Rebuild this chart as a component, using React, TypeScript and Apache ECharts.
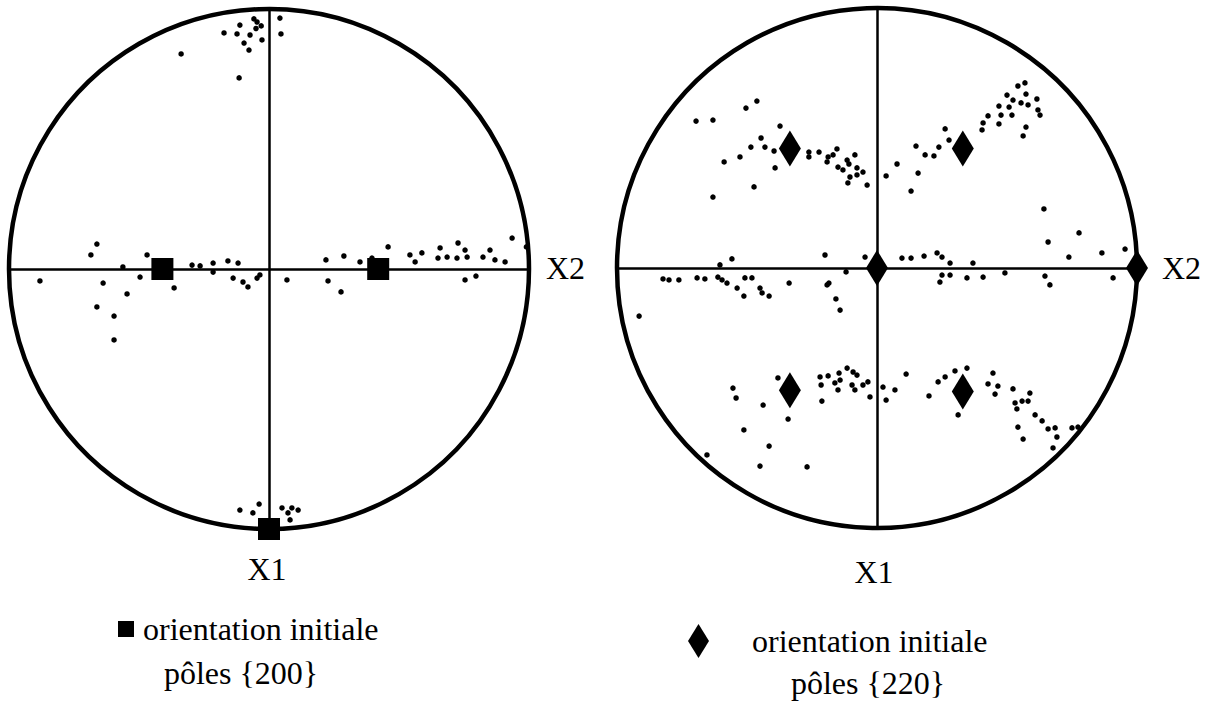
import React, { useEffect, useRef } from "react";
import * as echarts from "echarts";

// Pole figure coordinates, in units of the projection radius (centre = 0, edge = 1)
const leftDots: [number, number][] = [
  [-0.046, 0.95], [-0.058, 0.962], [-0.03, 0.935], [-0.05, 0.925], [-0.112, 0.938], [-0.173, 0.908],
  [-0.123, 0.904], [-0.073, 0.9], [-0.096, 0.869], [-0.077, 0.842], [-0.027, 0.881],
  [-0.338, 0.827], [-0.115, 0.735], [0.042, 0.965], [0.046, 0.904],
  [-0.662, 0.096], [-0.685, 0.054], [-0.469, 0.054], [-0.562, 0.008], [-0.296, 0.015],
  [-0.265, 0.012], [-0.215, 0.023], [-0.158, 0.031], [-0.119, 0.023],
  [-0.881, -0.046], [-0.638, -0.054], [-0.496, -0.031], [-0.546, -0.096], [-0.662, -0.146],
  [-0.596, -0.181], [-0.596, -0.273], [-0.365, -0.073], [-0.215, -0.012], [-0.138, -0.035],
  [-0.1, -0.05], [-0.081, -0.069], [-0.046, -0.035], [-0.035, -0.023],
  [0.219, 0.035], [0.288, 0.05], [0.35, 0.027], [0.396, 0.042], [0.458, 0.085], [0.542, 0.054],
  [0.588, 0.062], [0.562, 0.027], [0.65, 0.042], [0.685, 0.046], [0.658, 0.081], [0.727, 0.1],
  [0.754, 0.073], [0.723, 0.042], [0.762, 0.046], [0.823, 0.046], [0.85, 0.073], [0.869, 0.035],
  [0.908, 0.027], [0.935, 0.119], [0.99, 0.085],
  [0.069, -0.042], [0.227, -0.046], [0.277, -0.088], [0.754, -0.042], [0.796, -0.027],
  [-0.112, -0.927], [-0.038, -0.904], [-0.062, -0.938], [0.05, -0.919], [0.088, -0.919],
  [0.112, -0.927], [0.073, -0.938], [0.081, -0.965],
];
const leftPoles: [number, number][] = [[-0.41, 0], [0.42, 0], [0, -1]];

const rightDots: [number, number][] = [
  [-0.462, 0.642], [-0.504, 0.615], [-0.696, 0.565], [-0.631, 0.569], [-0.373, 0.546],
  [-0.446, 0.5], [-0.485, 0.465], [-0.431, 0.465], [-0.396, 0.45], [-0.527, 0.427],
  [-0.588, 0.408], [-0.392, 0.385], [-0.473, 0.312], [-0.631, 0.273], [-0.262, 0.446],
  [-0.262, 0.427], [-0.223, 0.446], [-0.188, 0.427], [-0.192, 0.408], [-0.154, 0.458],
  [-0.169, 0.435], [-0.085, 0.435], [-0.115, 0.415], [-0.108, 0.4], [-0.15, 0.388],
  [-0.131, 0.377], [-0.077, 0.385], [-0.054, 0.369], [-0.077, 0.358], [-0.104, 0.35],
  [-0.112, 0.327], [-0.038, 0.319],
  [0.262, 0.535], [0.277, 0.492], [0.238, 0.465], [0.15, 0.469], [0.185, 0.435], [0.219, 0.431],
  [0.077, 0.4], [0.035, 0.354], [0.158, 0.365], [0.131, 0.296], [0.408, 0.558], [0.404, 0.531],
  [0.427, 0.585], [0.469, 0.623], [0.477, 0.588], [0.469, 0.554], [0.5, 0.665], [0.508, 0.619],
  [0.519, 0.588], [0.523, 0.646], [0.542, 0.7], [0.569, 0.712], [0.573, 0.669], [0.554, 0.635],
  [0.581, 0.627], [0.615, 0.65], [0.619, 0.608], [0.627, 0.588], [0.573, 0.542], [0.562, 0.508],
  [0.642, 0.227], [0.777, 0.135], [0.658, 0.1], [0.738, 0.042], [0.865, 0.058], [0.954, 0.073],
  [0.096, 0.038], [0.131, 0.038], [0.181, 0.046], [0.231, 0.058], [0.25, 0.042], [0.281, 0.019],
  [0.369, 0.019], [-0.558, 0.035], [-0.2, 0.05], [-0.046, 0.042], [-0.604, 0.012],
  [-0.823, -0.042], [-0.8, -0.046], [-0.762, -0.046], [-0.692, -0.038], [-0.662, -0.042],
  [-0.612, -0.035], [-0.596, -0.046], [-0.577, -0.058], [-0.538, -0.077], [-0.512, -0.108],
  [-0.508, -0.038], [-0.481, -0.038], [-0.45, -0.077], [-0.442, -0.096], [-0.415, -0.108],
  [-0.338, -0.058], [-0.192, -0.065], [-0.185, -0.058], [-0.158, -0.119], [-0.142, -0.162],
  [-0.119, -0.015], [-0.915, -0.185],
  [-0.381, -0.423], [-0.554, -0.462], [-0.542, -0.5], [-0.438, -0.527], [-0.342, -0.581],
  [-0.212, -0.512], [-0.512, -0.623], [-0.415, -0.685], [-0.654, -0.719], [-0.45, -0.762],
  [-0.269, -0.765], [-0.219, -0.419], [-0.188, -0.415], [-0.215, -0.45], [-0.146, -0.404],
  [-0.115, -0.385], [-0.092, -0.4], [-0.077, -0.412], [-0.162, -0.442], [-0.142, -0.431],
  [-0.15, -0.469], [-0.096, -0.45], [-0.085, -0.469], [-0.054, -0.45], [-0.035, -0.438],
  [-0.027, -0.496],
  [0.3, -0.396], [0.346, -0.385], [0.262, -0.419], [0.235, -0.438], [0.2, -0.492], [0.312, -0.565],
  [0.112, -0.408], [0.023, -0.458], [0.069, -0.469], [0.035, -0.508], [0.446, -0.404],
  [0.427, -0.446], [0.465, -0.454], [0.454, -0.485], [0.523, -0.465], [0.588, -0.481],
  [0.531, -0.519], [0.558, -0.512], [0.581, -0.512], [0.538, -0.542], [0.608, -0.565],
  [0.635, -0.588], [0.542, -0.612], [0.562, -0.658], [0.658, -0.619], [0.685, -0.615],
  [0.692, -0.65], [0.677, -0.692], [0.75, -0.615], [0.773, -0.612],
  [0.25, -0.027], [0.242, -0.054], [0.281, -0.027], [0.346, -0.038], [0.408, -0.035],
  [0.492, -0.019], [0.646, -0.031], [0.665, -0.065], [0.908, -0.038],
];
const rightPoles: [number, number][] = [
  [-0.335, 0.46], [0.33, 0.46], [0, 0], [1, 0], [-0.335, -0.47], [0.33, -0.475],
];

const circleCentre: [number, number][] = [[0, 0]];
const axisNames = ["X1", "X2"];
const legendName = "orientation initiale";
const poleLabels = ["pôles {200}", "pôles {220}"];

const FONT = '"Liberation Serif", "Times New Roman", serif';
const FS = 32;

export default function App() {
  const ref = useRef<HTMLDivElement>(null);
  useEffect(() => {
    if (!ref.current) return;
    const chart = echarts.init(ref.current, undefined, { renderer: "svg" });
    const axisBase = {
      type: "value" as const,
      min: -1,
      max: 1,
      axisLine: { show: true, onZero: true, lineStyle: { color: "#000", width: 2.5 } },
      axisTick: { show: false },
      axisLabel: { show: false },
      splitLine: { show: false },
    };
    const circleSeries = (i: number) => ({
      type: "custom",
      xAxisIndex: i,
      yAxisIndex: i,
      data: circleCentre,
      clip: false,
      silent: true,
      z: 1,
      renderItem: (_p: any, api: any) => {
        const c = api.coord([api.value(0), api.value(1)]);
        const r = api.size([1, 1])[0];
        return {
          type: "circle",
          shape: { cx: c[0], cy: c[1], r },
          style: { fill: "none", stroke: "#000", lineWidth: 4.5 },
        };
      },
    });
    const textStyle = (text: string, align: string) => ({
      text,
      font: `${FS}px ${FONT}`,
      fill: "#000",
      align,
      textAlign: align,
      verticalAlign: "middle",
      textVerticalAlign: "middle",
    });
    const black = { color: "#000", opacity: 1 };
    chart.setOption({
      animation: false,
      backgroundColor: "#fff",
      grid: [
        { left: 9, top: 9, width: 520, height: 520 },
        { left: 617, top: 8, width: 520, height: 520 },
      ],
      xAxis: [
        { ...axisBase, gridIndex: 0 },
        { ...axisBase, gridIndex: 1 },
      ],
      yAxis: [
        { ...axisBase, gridIndex: 0 },
        { ...axisBase, gridIndex: 1 },
      ],
      legend: [
        {
          left: 113,
          top: 608,
          padding: 5,
          selectedMode: false,
          data: [{ name: legendName, icon: "rect" }],
          itemWidth: 16,
          itemHeight: 16,
          itemStyle: black,
          textStyle: { fontFamily: FONT, fontSize: FS, color: "#000", padding: [0, 0, 0, 4] },
        },
        {
          left: 683,
          top: 619,
          padding: 5,
          selectedMode: false,
          data: [{ name: legendName, icon: "diamond" }],
          itemWidth: 21,
          itemHeight: 34,
          itemStyle: black,
          textStyle: { fontFamily: FONT, fontSize: FS, color: "#000", padding: [0, 0, 0, 38] },
        },
      ],
      series: [
        circleSeries(0),
        circleSeries(1),
        {
          name: "dots200",
          type: "scatter",
          xAxisIndex: 0,
          yAxisIndex: 0,
          data: leftDots,
          symbol: "circle",
          symbolSize: 5.5,
          itemStyle: black,
          z: 3,
        },
        {
          name: "dots220",
          type: "scatter",
          xAxisIndex: 1,
          yAxisIndex: 1,
          data: rightDots,
          symbol: "circle",
          symbolSize: 5.5,
          itemStyle: black,
          z: 3,
        },
        {
          name: legendName,
          type: "scatter",
          xAxisIndex: 0,
          yAxisIndex: 0,
          data: leftPoles,
          symbol: "rect",
          symbolSize: 22,
          itemStyle: black,
          clip: false,
          z: 4,
        },
        {
          name: legendName,
          type: "scatter",
          xAxisIndex: 1,
          yAxisIndex: 1,
          data: rightPoles,
          symbol: "diamond",
          symbolSize: [22, 36],
          itemStyle: black,
          clip: false,
          z: 4,
        },
      ],
      graphic: [
        { type: "text", x: 267, y: 569, style: textStyle(axisNames[0], "center") },
        { type: "text", x: 546, y: 268, style: textStyle(axisNames[1], "left") },
        { type: "text", x: 874, y: 572, style: textStyle(axisNames[0], "center") },
        { type: "text", x: 1162, y: 268, style: textStyle(axisNames[1], "left") },
        { type: "text", x: 241, y: 673, style: textStyle(poleLabels[0], "center") },
        { type: "text", x: 868, y: 683, style: textStyle(poleLabels[1], "center") },
      ],
    });
    return () => chart.dispose();
  }, []);
  return (
    <div
      ref={ref}
      style={{ position: "absolute", left: 0, top: 0, width: 1208, height: 703, background: "#fff" }}
    />
  );
}
